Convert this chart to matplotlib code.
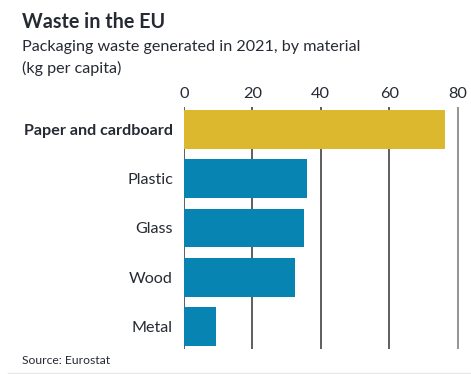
import numpy as np
import matplotlib
matplotlib.use("Agg")
import matplotlib.pyplot as plt

materials = ["Paper and cardboard", "Plastic", "Glass", "Wood", "Metal"]
kg_per_capita = [76.2, 36.0, 35.2, 32.5, 9.4]
bar_colors = ["#dcb82e", "#0884b2", "#0884b2", "#0884b2", "#0884b2"]
xticks = [0, 20, 40, 60, 80]

plt.rcParams['font.family'] = ['Lato', 'DejaVu Sans']
text_col = "#262a33"

W, H = 471, 374
fig = plt.figure(figsize=(W / 100, H / 100), dpi=100)
fig.patch.set_facecolor("white")

# axes placed in pixel coords: x 184..461, y 107..349
left, right, top, bottom = 184, 461, 107, 349
ax = fig.add_axes([left / W, 1 - bottom / H, (right - left) / W, (bottom - top) / H])

y = np.arange(len(materials))
ax.barh(y, kg_per_capita, height=0.79, color=bar_colors, zorder=3)
ax.set_ylim(len(materials) - 0.54, -0.46)
ax.set_xlim(0, 81)

for v in xticks:
    ax.axvline(v, color="#333333" if v < 80 else "#777777", lw=1.1, zorder=2)

for s in ax.spines.values():
    s.set_visible(False)

ax.xaxis.tick_top()
ax.set_xticks(xticks)
ax.set_xticklabels([str(v) for v in xticks], fontsize=11.8, color=text_col)
ax.tick_params(axis="x", length=0, pad=4)
ax.set_yticks(y)
ax.set_yticklabels(materials, fontsize=11.6, color=text_col)
ax.tick_params(axis="y", length=0, pad=8)
ax.get_yticklabels()[0].set_fontweight("bold")

fig.text(22 / W, 1 - 22 / H, "Waste in the EU", fontsize=14.2, fontweight="bold",
         color=text_col, va="center", ha="left")
fig.text(22 / W, 1 - 47 / H, "Packaging waste generated in 2021, by material",
         fontsize=11.6, color=text_col, va="center", ha="left")
fig.text(22 / W, 1 - 68 / H, "(kg per capita)", fontsize=11.6, color=text_col,
         va="center", ha="left")
fig.text(22 / W, 1 - 361 / H, "Source: Eurostat", fontsize=8.7, color=text_col,
         va="center", ha="left")

fig.add_artist(plt.Line2D([8 / W, 1], [1 - 373 / H, 1 - 373 / H],
                          color="#e8e8e8", lw=1, transform=fig.transFigure))

fig.savefig("out.png", dpi=100)
